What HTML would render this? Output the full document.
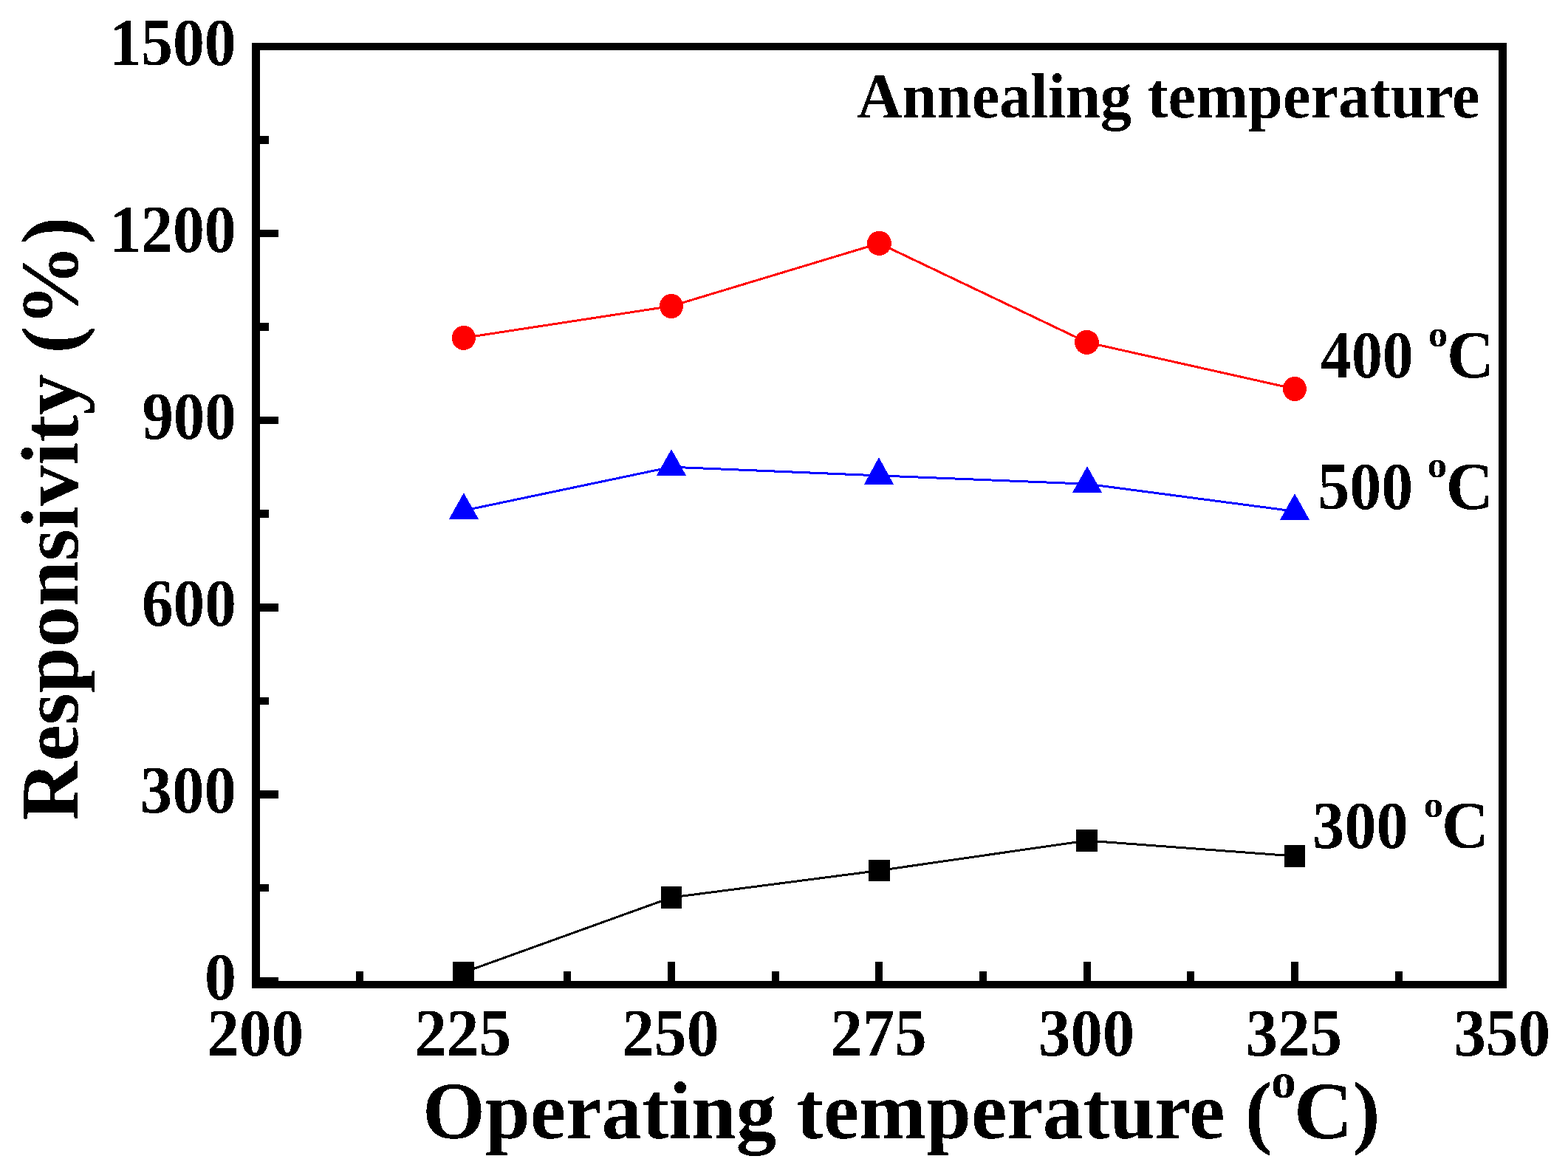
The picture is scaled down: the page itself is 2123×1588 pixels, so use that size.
<!DOCTYPE html>
<html><head><meta charset="utf-8"><title>Responsivity vs Operating temperature</title>
<style>html,body{margin:0;padding:0;background:#fff;width:2123px;height:1588px;overflow:hidden}svg{display:block}</style></head>
<body><svg width="2123" height="1588" viewBox="0 0 2123 1588" style="font-family:'Liberation Serif', 'Times New Roman', serif;font-weight:bold" fill="#000">
<defs><filter id="bin" x="0" y="0" width="2123" height="1588" filterUnits="userSpaceOnUse" color-interpolation-filters="sRGB"><feComponentTransfer><feFuncA type="discrete" tableValues="0 1"/></feComponentTransfer></filter></defs>
<rect width="2123" height="1588" fill="#fff"/>
<rect x="341" y="58" width="11" height="1280" fill="#000"/>
<rect x="2029" y="58" width="11" height="1280" fill="#000"/>
<rect x="341" y="58" width="1699" height="10" fill="#000"/>
<rect x="341" y="1328" width="1699" height="10" fill="#000"/>
<rect x="352" y="1323" width="25" height="11" fill="#000"/>
<rect x="352" y="1070" width="25" height="11" fill="#000"/>
<rect x="352" y="817" width="25" height="11" fill="#000"/>
<rect x="352" y="564" width="25" height="10" fill="#000"/>
<rect x="352" y="311" width="25" height="10" fill="#000"/>
<rect x="352" y="58" width="25" height="10" fill="#000"/>
<rect x="352" y="1197" width="12" height="10" fill="#000"/>
<rect x="352" y="944" width="12" height="10" fill="#000"/>
<rect x="352" y="690" width="12" height="11" fill="#000"/>
<rect x="352" y="437" width="12" height="11" fill="#000"/>
<rect x="352" y="184" width="12" height="11" fill="#000"/>
<rect x="623" y="1302" width="10" height="26" fill="#000"/>
<rect x="904" y="1302" width="10" height="26" fill="#000"/>
<rect x="1185" y="1302" width="10" height="26" fill="#000"/>
<rect x="1467" y="1302" width="10" height="26" fill="#000"/>
<rect x="1748" y="1302" width="10" height="26" fill="#000"/>
<rect x="482" y="1315" width="10" height="13" fill="#000"/>
<rect x="763" y="1315" width="10" height="13" fill="#000"/>
<rect x="1045" y="1315" width="10" height="13" fill="#000"/>
<rect x="1326" y="1315" width="10" height="13" fill="#000"/>
<rect x="1607" y="1315" width="10" height="13" fill="#000"/>
<rect x="1889" y="1315" width="10" height="13" fill="#000"/>
<polyline fill="none" stroke="#000" stroke-width="3" stroke-linejoin="miter" shape-rendering="crispEdges" points="627.5,1316.5 909.0,1215.0 1190.5,1178.5 1471.5,1138.0 1753.0,1159.0"/>
<polyline fill="none" stroke="#ff0000" stroke-width="3" stroke-linejoin="miter" shape-rendering="crispEdges" points="627.9,457.4 909.0,414.4 1190.5,329.4 1471.5,463.4 1753.0,526.5"/>
<polyline fill="none" stroke="#0000ff" stroke-width="3" stroke-linejoin="miter" shape-rendering="crispEdges" points="627.9,691.2 909.0,632.2 1190.0,643.9 1472.0,655.2 1753.0,692.2"/>
<rect x="613" y="1302" width="29" height="29" fill="#000"/>
<rect x="895" y="1200" width="28" height="30" fill="#000"/>
<rect x="1176" y="1164" width="29" height="29" fill="#000"/>
<rect x="1457" y="1123" width="29" height="30" fill="#000"/>
<rect x="1739" y="1144" width="28" height="30" fill="#000"/>
<ellipse cx="627.9" cy="457.4" rx="16" ry="16.5" fill="#ff0000" shape-rendering="crispEdges"/>
<ellipse cx="909" cy="414.45" rx="16" ry="16.5" fill="#ff0000" shape-rendering="crispEdges"/>
<ellipse cx="1190.5" cy="329.4" rx="16.5" ry="16.6" fill="#ff0000" shape-rendering="crispEdges"/>
<ellipse cx="1471.5" cy="463.4" rx="16.5" ry="16.5" fill="#ff0000" shape-rendering="crispEdges"/>
<ellipse cx="1753" cy="526.5" rx="16" ry="16.5" fill="#ff0000" shape-rendering="crispEdges"/>
<polygon points="627.9,667.1 648,702.9 607.9,702.9" fill="#0000ff" shape-rendering="crispEdges"/>
<polygon points="909,608.1 929,643.8 888.9,643.8" fill="#0000ff" shape-rendering="crispEdges"/>
<polygon points="1190,619.1 1210,655.9 1169.9,655.9" fill="#0000ff" shape-rendering="crispEdges"/>
<polygon points="1472,631.2 1492,666.8 1452,666.8" fill="#0000ff" shape-rendering="crispEdges"/>
<polygon points="1753,668.1 1773,703.8 1733,703.8" fill="#0000ff" shape-rendering="crispEdges"/>
<g filter="url(#bin)">
<text transform="translate(148.23,88.00) scale(0.9529,1)" font-size="90">1500</text>
<text transform="translate(148.23,341.00) scale(0.9529,1)" font-size="90">1200</text>
<text transform="translate(192.44,594.20) scale(0.9429,1)" font-size="90">900</text>
<text transform="translate(191.96,846.90) scale(0.9465,1)" font-size="90">600</text>
<text transform="translate(189.86,1100.00) scale(0.9624,1)" font-size="90">300</text>
<text transform="translate(276.94,1353.30) scale(0.9526,1)" font-size="90">0</text>
<text transform="translate(280.24,1429.00) scale(0.9687,1)" font-size="90">200</text>
<text transform="translate(561.13,1429.00) scale(0.9710,1)" font-size="90">225</text>
<text transform="translate(842.01,1429.00) scale(0.9749,1)" font-size="90">250</text>
<text transform="translate(1124.34,1429.00) scale(0.9671,1)" font-size="90">275</text>
<text transform="translate(1406.01,1429.00) scale(0.9643,1)" font-size="90">300</text>
<text transform="translate(1686.50,1429.00) scale(0.9674,1)" font-size="90">325</text>
<text transform="translate(1968.19,1429.00) scale(0.9705,1)" font-size="90">350</text>
<text transform="translate(572.04,1541.00) scale(0.9927,1)" font-size="110">Operating temperature (</text>
<text transform="translate(1721.23,1486.10) scale(0.9840,1)" font-size="68">o</text>
<text transform="translate(1751.77,1541.00) scale(1.0058,1)" font-size="110">C)</text>
<text transform="translate(1160.17,158.80) scale(0.9687,1)" font-size="87.5">Annealing temperature</text>
<text transform="translate(1788.07,511.00) scale(0.9298,1)" font-size="90">400</text>
<text transform="translate(1934.01,468.50) scale(1.0397,1)" font-size="50">o</text>
<text transform="translate(1958.96,511.00) scale(0.9847,1)" font-size="90">C</text>
<text transform="translate(1784.31,689.00) scale(0.9537,1)" font-size="90">500</text>
<text transform="translate(1932.68,646.00) scale(1.0538,1)" font-size="50">o</text>
<text transform="translate(1957.76,689.00) scale(0.9847,1)" font-size="90">C</text>
<text transform="translate(1776.91,1148.00) scale(0.9620,1)" font-size="90">300</text>
<text transform="translate(1927.79,1106.00) scale(1.0491,1)" font-size="50">o</text>
<text transform="translate(1951.99,1148.00) scale(0.9773,1)" font-size="90">C</text>
<text transform="translate(105.40,1110.80) rotate(-90) scale(1.0047,1)" font-size="110.5">Responsivity (%)</text>
</g>
</svg></body></html>
